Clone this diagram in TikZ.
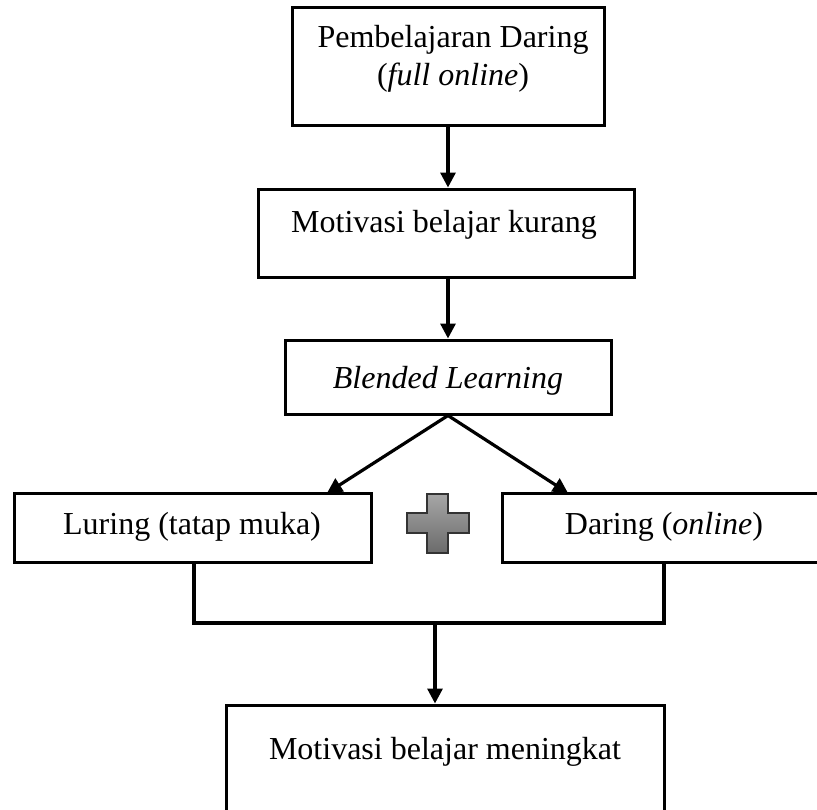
\documentclass[tikz,border=0pt]{standalone}
\usepackage{fontspec}
\setmainfont{Liberation Serif}
\usetikzlibrary{arrows.meta,calc}
\tikzset{
  boxnode/.style={draw=black, line width=3pt, inner sep=0pt, fill=none},
  txt/.style={anchor=base, inner sep=0pt, font=\fontsize{32}{38}\selectfont},
  conn/.style={draw=black, line width=3.2pt, line join=miter},
  arr/.style={conn, -{Triangle[length=15pt,width=15pt]}},
}
\begin{document}
\begin{tikzpicture}[x=1pt,y=-1pt]
\useasboundingbox (0,0) rectangle (817,809);
\clip (0,0) rectangle (817,809);
% boxes
\node[boxnode, minimum width=312pt, minimum height=118pt] (b1) at (448,66) {};
\node[boxnode, minimum width=376pt, minimum height=88pt] (b2) at (446,233) {};
\node[boxnode, minimum width=326pt, minimum height=74pt] (b3) at (448,377) {};
\node[boxnode, minimum width=357pt, minimum height=69pt] (b4) at (192.5,527.5) {};
\node[boxnode, minimum width=324pt, minimum height=69pt] (b5) at (664,527.5) {};
\node[boxnode, minimum width=438pt, minimum height=125pt] (b6) at (445,767.5) {};
% texts
\node[txt] (t1a) at (453,47) {Pembelajaran Daring};
\node[txt] (t1b) at (453,85) {(\textit{full online})};
\node[txt] (t2) at (444,232) {Motivasi belajar kurang};
\node[txt] (t3) at (448,388) {\textit{Blended Learning}};
\node[txt] (t4) at (192,534) {Luring (tatap muka)};
\node[txt] (t5) at (664,534) {Daring (\textit{online})};
\node[txt] (t6) at (445,759) {Motivasi belajar meningkat};
% plus sign
\path[draw=black!80, line width=1.5pt, top color=black!35, bottom color=black!58]
  (427,494) -- (448,494) -- (448,513) -- (469,513) -- (469,533) -- (448,533)
  -- (448,553) -- (427,553) -- (427,533) -- (407,533) -- (407,513) -- (427,513) -- cycle;
\node[inner sep=0pt] (plus) at (438,523.5) {};
% connectors
\path[arr] (b1.south) -- (b1.south |- b2.north);
\path[arr] (b3.north |- b2.south) -- (b3.north);
\coordinate (lt) at (327,493);
\coordinate (rt) at (568,493);
\path[arr] (b3.south) -- (lt);
\path[arr] (b3.south) -- (rt);
\coordinate (jl) at (194,623);
\coordinate (jr) at (664,623);
\coordinate (jm) at (435,623);
\path[conn] (b4.south -| jl) -- (jl) -- (jr) -- (b5.south -| jr);
\path[arr] (jm) -- (jm |- b6.north);
\end{tikzpicture}
\end{document}
